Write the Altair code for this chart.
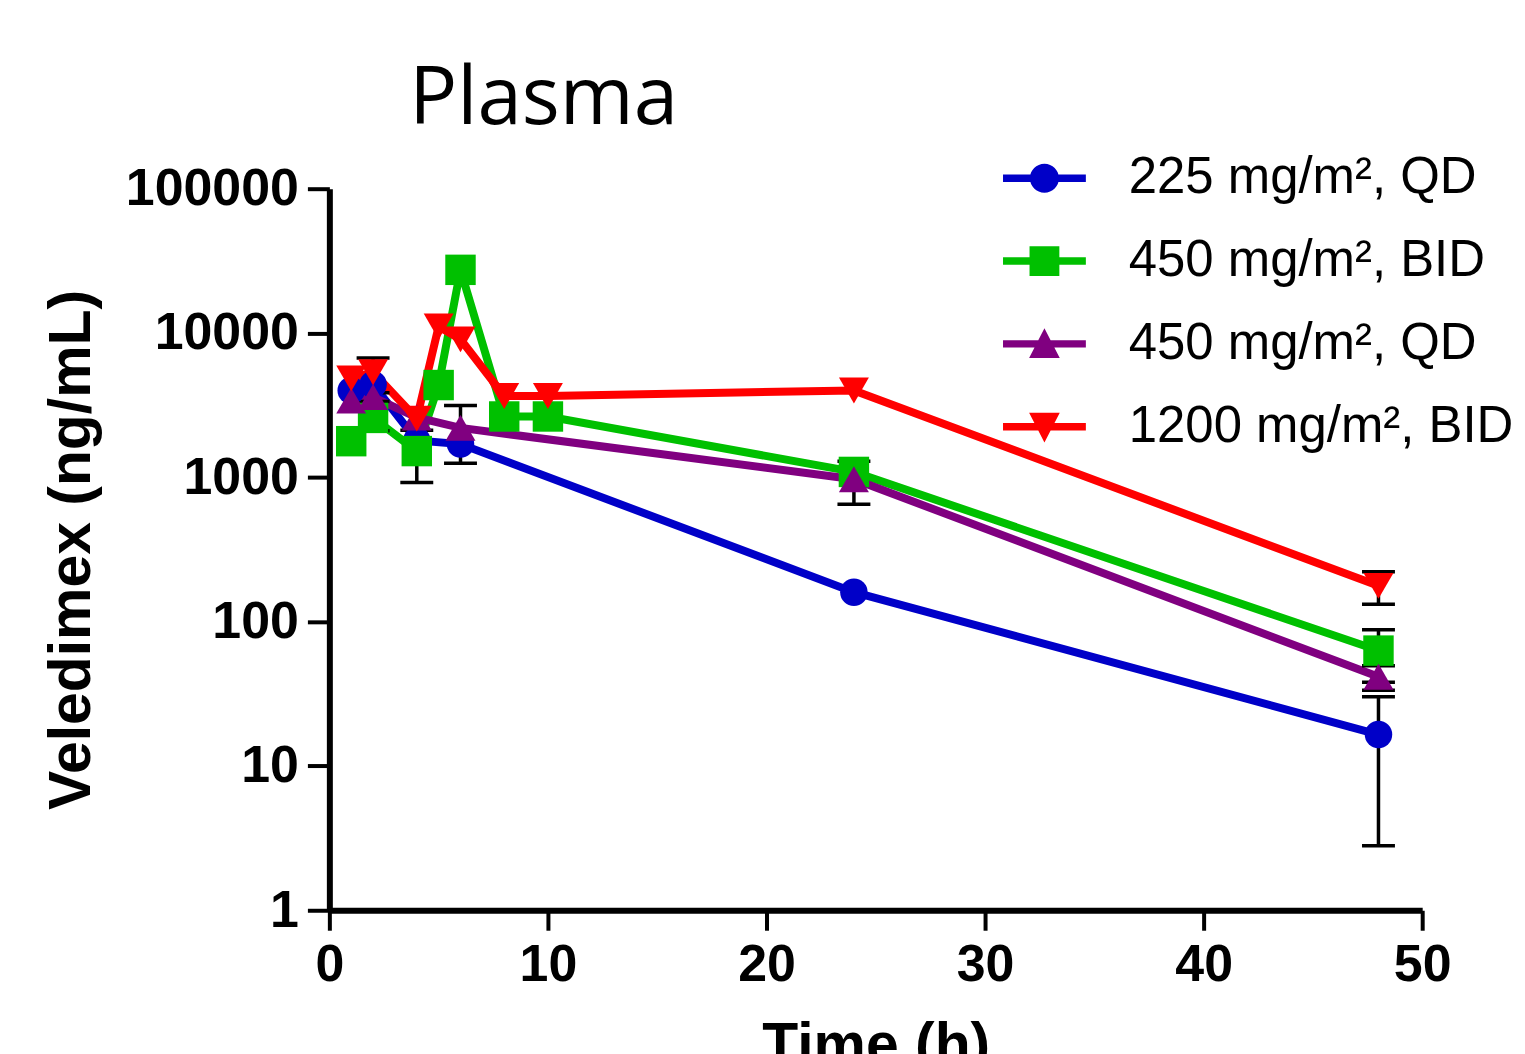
import altair as alt
import pandas as pd

# ---------------- data ----------------
series = ["225 mg/m², QD", "450 mg/m², BID", "450 mg/m², QD", "1200 mg/m², BID"]
colors = ["#0000C8", "#00C000", "#800080", "#FF0000"]
shapes = ["circle", "square", "triangle-up", "triangle-down"]

time_qd = [1, 2, 4, 6, 24, 48]
time_bid = [1, 2, 4, 5, 6, 8, 10, 24, 48]

conc_225_qd = [4000, 4400, 1800, 1700, 160, 16.5]
err_225_qd = [0, 2300, 0, 0, 0, 13.7]

conc_450_bid = [1780, 2580, 1520, 4360, 27400, 2640, 2640, 1090, 63]
err_450_bid = [0, 0, 600, 0, 0, 0, 0, 0, 25]

conc_450_qd = [3400, 3600, 2600, 2200, 970, 41.5]
err_450_qd = [0, 250, 0, 950, 320, 8]

conc_1200_bid = [4850, 5350, 2550, 11100, 9030, 3660, 3660, 4000, 177]
err_1200_bid = [0, 0, 0, 0, 0, 0, 0, 0, 45]

x_ticks = [0, 10, 20, 30, 40, 50]
y_ticks = [1, 10, 100, 1000, 10000, 100000]

# legend glyphs: a line segment with the series marker, in the unit box [-1, 1]
line_part = "M-1,-0.09H1V0.09H-1Z"
legend_paths = [
    line_part + "M0.35,0A0.35,0.35,0,1,1,-0.35,0A0.35,0.35,0,1,1,0.35,0Z",
    line_part + "M-0.36,-0.36H0.36V0.36H-0.36Z",
    line_part + "M0,-0.38L0.37,0.34L-0.37,0.34Z",
    line_part + "M-0.37,-0.34L0.37,-0.34L0,0.38Z",
]

# ---------------- table ----------------
rows = []
for name, t, c, e in [
    (series[0], time_qd, conc_225_qd, err_225_qd),
    (series[1], time_bid, conc_450_bid, err_450_bid),
    (series[2], time_qd, conc_450_qd, err_450_qd),
    (series[3], time_bid, conc_1200_bid, err_1200_bid),
]:
    for ti, ci, ei in zip(t, c, e):
        rows.append({"series": name, "time": ti, "conc": ci, "err": ei,
                     "lo": ci - ei, "hi": ci + ei})
df = pd.DataFrame(rows)

x_enc = alt.X("time:Q", scale=alt.Scale(domain=[0, 50], nice=False),
              axis=alt.Axis(values=x_ticks, title="Time (h)", titlePadding=27,
                            labelPadding=9, labelFlush=False))
y_enc = alt.Y("conc:Q", scale=alt.Scale(type="log", domain=[1, 100000], nice=False),
              axis=alt.Axis(values=y_ticks, format="d", title="Veledimex (ng/mL)",
                            titleX=-258, titleBaseline="middle", labelPadding=9,
                            labelFlush=False, tickSize=22))
color_scale = alt.Scale(domain=series, range=colors)

base = alt.Chart(df)

line_layers = []
for name, col in zip(series, colors):
    line_layers.append(
        base.transform_filter(alt.datum.series == name)
        .mark_line(strokeWidth=8, color=col)
        .encode(x=x_enc, y=y_enc)
    )

err_df = base.transform_filter("datum.err > 0")
bars = err_df.mark_rule(color="black", strokeWidth=3.5).encode(
    x="time:Q", y="lo:Q", y2="hi:Q")
cap_hi = err_df.mark_tick(color="black", thickness=3.5, size=33,
                          orient="horizontal", opacity=1).encode(x="time:Q", y="hi:Q")
cap_lo = err_df.mark_tick(color="black", thickness=3.5, size=33,
                          orient="horizontal", opacity=1).encode(x="time:Q", y="lo:Q")

point_sizes = [760, 930, 900, 900]
point_layers = []
for name, shp, sz, col in zip(series, shapes, point_sizes, colors):
    point_layers.append(
        base.transform_filter(alt.datum.series == name)
        .mark_point(shape=shp, filled=True, size=sz, opacity=1, strokeWidth=0, color=col)
        .encode(x="time:Q", y="conc:Q")
    )

legend_props = dict(
    title=None, orient="none", legendX=675, legendY=-52, padding=0,
    symbolSize=6889, symbolOpacity=1, symbolStrokeWidth=0,
    labelFont="Liberation Sans", labelFontSize=51, labelColor="black",
    labelOffset=43, labelLimit=0, rowPadding=16,
)
legend_layer = base.mark_point(filled=True, opacity=0, size=10).encode(
    x="time:Q", y="conc:Q",
    color=alt.Color("series:N", scale=color_scale, legend=alt.Legend(**legend_props)),
    shape=alt.Shape("series:N", scale=alt.Scale(domain=series, range=legend_paths),
                    legend=alt.Legend(**legend_props)),
)

chart = alt.layer(*line_layers, bars, cap_hi, cap_lo, *point_layers, legend_layer).properties(
    width=1095, height=723,
    autosize=alt.AutoSizeParams(type="none"),
    padding={"left": 322, "top": 180, "right": 95, "bottom": 160},
    title=alt.TitleParams("Plasma", anchor="start", frame="group", dx=80,
                          font="Open Sans", fontSize=80, fontWeight="normal",
                          color="black", baseline="alphabetic", offset=-67),
).configure_view(stroke=None).configure_axis(
    grid=False, domainColor="black", domainWidth=6, tickColor="black",
    tickWidth=4, tickSize=20, labelFont="Liberation Sans", labelFontWeight="bold",
    labelFontSize=52, labelColor="black", titleFont="Liberation Sans",
    titleFontWeight="bold", titleFontSize=59, titleColor="black",
)

chart.save("out.html", embed_options={"renderer": "svg", "actions": False})
